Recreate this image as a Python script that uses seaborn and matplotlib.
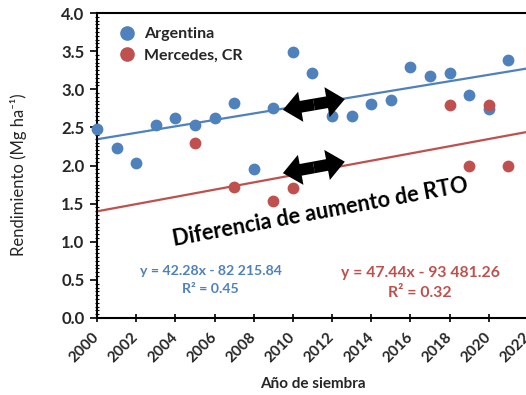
import numpy as np
import pandas as pd
import matplotlib
matplotlib.use("Agg")
import matplotlib.pyplot as plt
import seaborn as sns
from matplotlib.patches import FancyArrowPatch
from matplotlib.lines import Line2D
from matplotlib.ticker import MultipleLocator

# ---- data ----
arg_years = [2000, 2001, 2002, 2003, 2004, 2005, 2006, 2007, 2008, 2009, 2010,
             2011, 2012, 2013, 2014, 2015, 2016, 2017, 2018, 2019, 2020, 2021]
arg_yield = [2.48, 2.23, 2.03, 2.53, 2.62, 2.53, 2.62, 2.82, 1.96, 2.75, 3.49,
             3.21, 2.65, 2.65, 2.81, 2.86, 3.29, 3.17, 3.21, 2.92, 2.74, 3.38]
mer_years = [2005, 2007, 2009, 2010, 2018, 2019, 2020, 2021]
mer_yield = [2.29, 1.72, 1.53, 1.70, 2.79, 1.99, 2.80, 1.99]

# trend equations (kg/ha vs year)
arg_slope, arg_intercept = 42.28, -82215.84
mer_slope, mer_intercept = 47.44, -93481.26
arg_eq = ["y = 42.28x - 82 215.84", "R² = 0.45"]
mer_eq = ["y = 47.44x - 93 481.26", "R² = 0.32"]
x_ticks = list(range(2000, 2023, 2))
y_ticks = [0.0, 0.5, 1.0, 1.5, 2.0, 2.5, 3.0, 3.5, 4.0]

BLUE = "#4F81BD"
RED = "#C0504D"

sns.set_style("white")
plt.rcParams["font.family"] = ["Lato", "DejaVu Sans"]

fig = plt.figure(figsize=(5.26, 3.95), dpi=100)
ax = fig.add_axes([97/526, 77/395, (528-97)/526, (318-13)/395])

df_a = pd.DataFrame({"year": arg_years, "yield": arg_yield})
df_m = pd.DataFrame({"year": mer_years, "yield": mer_yield})

grid = np.array([2000.0, 2022.0])
sns.lineplot(x=grid, y=(arg_slope*grid + arg_intercept)/1000, color=BLUE, lw=1.6, ax=ax, zorder=2)
sns.lineplot(x=grid, y=(mer_slope*grid + mer_intercept)/1000, color=RED, lw=1.6, ax=ax, zorder=2)

sns.scatterplot(data=df_a, x="year", y="yield", color=BLUE, s=72, linewidth=0, ax=ax, zorder=3, clip_on=False)
sns.scatterplot(data=df_m, x="year", y="yield", color=RED, s=72, linewidth=0, ax=ax, zorder=4, clip_on=False)

ax.set_xlim(2000, 2022)
ax.set_ylim(0, 4.0)
ax.set_xticks(x_ticks)
ax.set_xticklabels([str(t) for t in x_ticks], rotation=45, ha="right", va="center",
                   rotation_mode="anchor", fontsize=11, fontweight="bold")
ax.set_yticks(y_ticks)
ax.set_yticklabels([f"{t:.1f}" for t in y_ticks], fontsize=12, fontweight="bold")
ax.yaxis.set_minor_locator(MultipleLocator(0.05))
ax.tick_params(axis="y", which="major", direction="out", length=5, width=1.2, color="black", left=True, pad=4)
ax.tick_params(axis="y", which="minor", direction="inout", length=3, width=0.8, color="black", left=True)
ax.tick_params(axis="x", which="major", direction="inout", length=6, width=1.2, color="black", bottom=True, pad=9)

for s in ["left", "bottom", "top", "right"]:
    ax.spines[s].set_color("black")
    ax.spines[s].set_linewidth(1.5)

ax.set_xlabel("Año de siembra", fontsize=11, fontweight="bold", labelpad=9)
ax.set_ylabel("Rendimiento (Mg ha⁻¹)", fontsize=12, fontweight="normal", labelpad=8)
ax.yaxis.set_label_coords(-0.163, 0.47)

# legend
handles = [Line2D([], [], marker="o", ls="", color=BLUE, markersize=9.5),
           Line2D([], [], marker="o", ls="", color=RED, markersize=9.5)]
ax.legend(handles, ["Argentina", "Mercedes, CR"], loc="upper left", bbox_to_anchor=(0.01, 0.985),
          frameon=False, handletextpad=0.05, labelspacing=0.45, borderaxespad=0.2,
          prop={"weight": "bold", "size": 11.5})

# equations
ax.text(2005.8, 0.62, arg_eq[0], color=BLUE, ha="center", va="center", fontsize=10.2, fontweight="bold")
ax.text(2005.8, 0.38, arg_eq[1], color=BLUE, ha="center", va="center", fontsize=10.2, fontweight="bold")
ax.text(2016.5, 0.59, mer_eq[0], color=RED, ha="center", va="center", fontsize=11.3, fontweight="bold")
ax.text(2016.5, 0.33, mer_eq[1], color=RED, ha="center", va="center", fontsize=11.3, fontweight="bold")

# annotation text
ax.text(2011.4, 1.39, "Diferencia de aumento de RTO", rotation=10.5, rotation_mode="anchor",
        ha="center", va="center", fontsize=15.7, fontweight="bold", color="black")

# double-headed arrows
def double_arrow(x0, y0, x1, y1):
    xm, ym = (x0 + x1) / 2, (y0 + y1) / 2
    for (xe, ye) in [(x0, y0), (x1, y1)]:
        a = FancyArrowPatch((xm, ym), (xe, ye),
                            arrowstyle="simple,head_length=1.3,head_width=2.2,tail_width=0.85",
                            mutation_scale=10, color="black", lw=0, zorder=6,
                            shrinkA=0, shrinkB=0)
        ax.add_patch(a)

double_arrow(2009.49, 2.73, 2012.65, 2.87)
double_arrow(2009.49, 1.90, 2012.65, 2.05)

fig.savefig("out.png", dpi=100)
